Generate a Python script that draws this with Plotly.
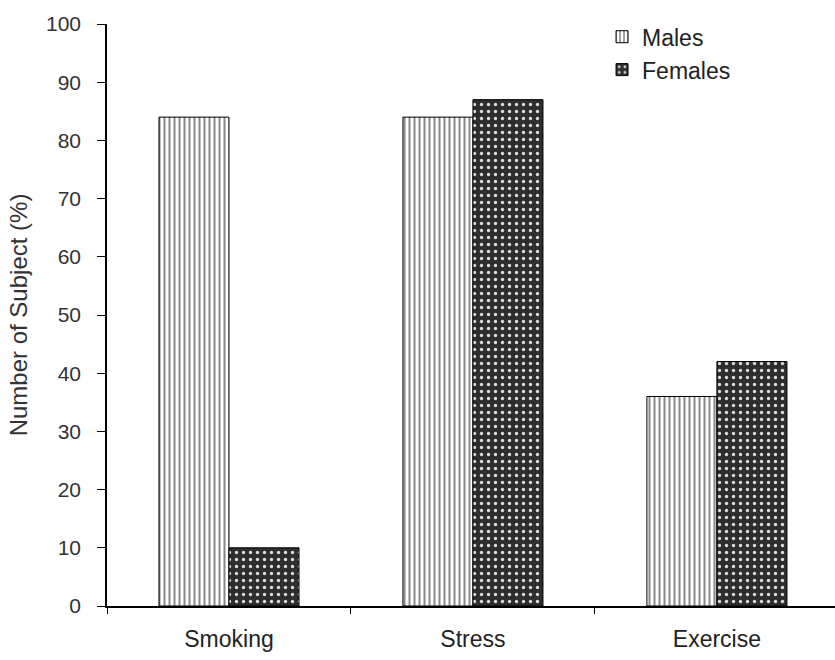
import plotly.graph_objects as go

# Survey results by lifestyle factor
categories = ["Smoking", "Stress", "Exercise"]
males = [84, 84, 36]
females = [10, 87, 42]
y_ticks = list(range(0, 101, 10))

font_family = "Liberation Sans, Arial, sans-serif"

fig = go.Figure()
fig.add_trace(go.Bar(
    name="Males", x=categories, y=males,
    marker=dict(
        color="white",
        line=dict(color="black", width=1),
        pattern=dict(shape="|", fgcolor="#111111", bgcolor="white",
                     size=5, solidity=0.4, fillmode="overlay"),
    ),
))
fig.add_trace(go.Bar(
    name="Females", x=categories, y=females,
    marker=dict(
        color="#2e2e2e",
        line=dict(color="black", width=1),
        pattern=dict(shape=".", fgcolor="#dddddd", bgcolor="#2e2e2e",
                     size=7, solidity=0.18, fillmode="replace"),
    ),
))

fig.update_layout(
    width=835, height=660,
    margin=dict(l=107, r=0, t=24, b=54),
    paper_bgcolor="white", plot_bgcolor="white",
    barmode="group", bargap=0.426, bargroupgap=0,
    font=dict(family=font_family, size=21, color="#333333"),
    showlegend=True,
    legend=dict(
        x=0.68, y=1.015, xanchor="left", yanchor="top",
        bgcolor="rgba(0,0,0,0)", font=dict(size=23, color="#222222"),
        itemwidth=30, tracegroupgap=6,
    ),
    xaxis=dict(
        type="category", range=[-0.5, 2.484],
        showline=True, linecolor="black", linewidth=1.5,
        ticks="outside", tickson="boundaries", ticklen=6, tickcolor="black",
        tickfont=dict(size=23, color="#222222"), ticklabelstandoff=12,
        showgrid=False, zeroline=False,
    ),
    yaxis=dict(
        range=[0, 100], tickvals=y_ticks,
        showline=True, linecolor="black", linewidth=1.5,
        ticks="outside", ticklen=8, tickcolor="black",
        tickfont=dict(size=21, color="#333333"), ticklabelstandoff=12,
        showgrid=False, zeroline=False,
        title=dict(text="Number of Subject (%)", font=dict(size=24, color="#333333"),
                   standoff=12),
    ),
)

fig.write_html("out.html")
